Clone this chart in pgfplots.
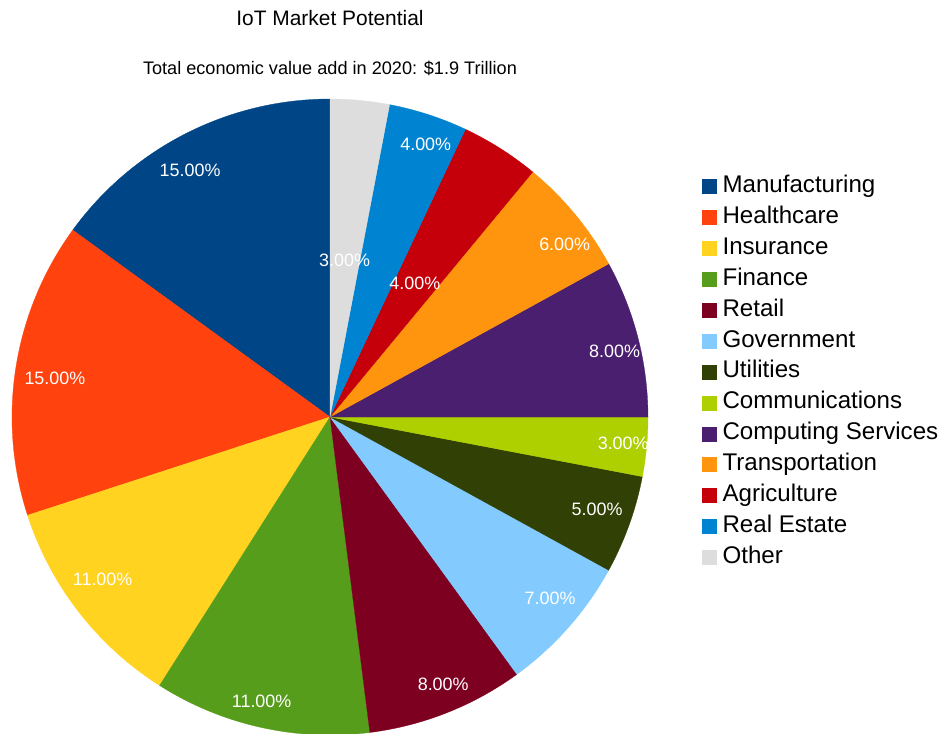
\documentclass[border=0pt]{standalone}
\usepackage{pgfplots}
\pgfplotsset{compat=1.18}
\usepackage{fontspec}
\setmainfont{Liberation Sans}
\definecolor{cManu}{HTML}{004586}
\definecolor{cHealth}{HTML}{FF420E}
\definecolor{cIns}{HTML}{FFD320}
\definecolor{cFin}{HTML}{579D1C}
\definecolor{cRet}{HTML}{7E0021}
\definecolor{cGov}{HTML}{83CAFF}
\definecolor{cUtil}{HTML}{314004}
\definecolor{cComm}{HTML}{AECF00}
\definecolor{cComp}{HTML}{4B1F6F}
\definecolor{cTrans}{HTML}{FF950E}
\definecolor{cAgri}{HTML}{C5000B}
\definecolor{cRE}{HTML}{0084D1}
\definecolor{cOther}{HTML}{DDDDDD}
\tikzset{pct/.style={text=white, font=\fontsize{18}{22}\selectfont}}
\begin{document}
\begin{tikzpicture}[x=1bp,y=1bp]
\useasboundingbox (0bp,0bp) rectangle (942bp,-734bp);
\node[font=\fontsize{21}{25}\selectfont] at (330bp,-18bp) {IoT Market Potential};
\node[font=\fontsize{18.2}{22}\selectfont] at (330bp,-68bp) {Total economic value add in 2020: \$1.9 Trillion};
\begin{axis}[
  at={(330bp,-417bp)}, anchor=origin,
  scale only axis, width=636bp, height=636bp,
  xmin=-1, xmax=1, ymin=-1, ymax=1,
  hide axis, clip=false, samples=90,
  legend cell align=left,
  legend style={at={(axis description cs:1.085,0.880)}, anchor=north west,
    draw=none, fill=none, inner sep=0pt,
    font=\fontsize{24.2}{28}\selectfont, row sep=8.9bp,
    nodes={inner ysep=0pt, inner xsep=0pt, text height=17bp, text depth=5bp},
    /tikz/every odd column/.append style={column sep=6bp}},
  legend image code/.code={\fill[#1] (0bp,-7bp) rectangle (14bp,7bp);},
]
% wedges: counter-clockwise from 90 degrees, angle = percent * 3.6
\addplot[fill=cManu, draw=cManu, line width=0.3bp, domain=90:144] ({cos(x)},{sin(x)}) -- (axis cs:0,0) -- cycle;
\addlegendentry{Manufacturing}
\addplot[fill=cHealth, draw=cHealth, line width=0.3bp, domain=144:198] ({cos(x)},{sin(x)}) -- (axis cs:0,0) -- cycle;
\addlegendentry{Healthcare}
\addplot[fill=cIns, draw=cIns, line width=0.3bp, domain=198:237.6] ({cos(x)},{sin(x)}) -- (axis cs:0,0) -- cycle;
\addlegendentry{Insurance}
\addplot[fill=cFin, draw=cFin, line width=0.3bp, domain=237.6:277.2] ({cos(x)},{sin(x)}) -- (axis cs:0,0) -- cycle;
\addlegendentry{Finance}
\addplot[fill=cRet, draw=cRet, line width=0.3bp, domain=277.2:306] ({cos(x)},{sin(x)}) -- (axis cs:0,0) -- cycle;
\addlegendentry{Retail}
\addplot[fill=cGov, draw=cGov, line width=0.3bp, domain=306:331.2] ({cos(x)},{sin(x)}) -- (axis cs:0,0) -- cycle;
\addlegendentry{Government}
\addplot[fill=cUtil, draw=cUtil, line width=0.3bp, domain=331.2:349.2] ({cos(x)},{sin(x)}) -- (axis cs:0,0) -- cycle;
\addlegendentry{Utilities}
\addplot[fill=cComm, draw=cComm, line width=0.3bp, domain=349.2:360] ({cos(x)},{sin(x)}) -- (axis cs:0,0) -- cycle;
\addlegendentry{Communications}
\addplot[fill=cComp, draw=cComp, line width=0.3bp, domain=360:388.8] ({cos(x)},{sin(x)}) -- (axis cs:0,0) -- cycle;
\addlegendentry{Computing Services}
\addplot[fill=cTrans, draw=cTrans, line width=0.3bp, domain=388.8:410.4] ({cos(x)},{sin(x)}) -- (axis cs:0,0) -- cycle;
\addlegendentry{Transportation}
\addplot[fill=cAgri, draw=cAgri, line width=0.3bp, domain=410.4:424.8] ({cos(x)},{sin(x)}) -- (axis cs:0,0) -- cycle;
\addlegendentry{Agriculture}
\addplot[fill=cRE, draw=cRE, line width=0.3bp, domain=424.8:439.2] ({cos(x)},{sin(x)}) -- (axis cs:0,0) -- cycle;
\addlegendentry{Real Estate}
\addplot[fill=cOther, draw=cOther, line width=0.3bp, domain=439.2:450] ({cos(x)},{sin(x)}) -- (axis cs:0,0) -- cycle;
\addlegendentry{Other}
% percentage labels inside the wedges
\node[pct] at (axis cs:-0.440,0.777) {15.00\%};
\node[pct] at (axis cs:-0.865,0.123) {15.00\%};
\node[pct] at (axis cs:-0.715,-0.509) {11.00\%};
\node[pct] at (axis cs:-0.215,-0.895) {11.00\%};
\node[pct] at (axis cs:0.356,-0.840) {8.00\%};
\node[pct] at (axis cs:0.692,-0.569) {7.00\%};
\node[pct] at (axis cs:0.840,-0.289) {5.00\%};
\node[pct] at (axis cs:0.922,-0.082) {3.00\%};
\node[pct] at (axis cs:0.895,0.205) {8.00\%};
\node[pct] at (axis cs:0.738,0.544) {6.00\%};
\node[pct] at (axis cs:0.267,0.421) {4.00\%};
\node[pct] at (axis cs:0.301,0.858) {4.00\%};
\node[pct] at (axis cs:0.046,0.492) {3.00\%};
\end{axis}
\end{tikzpicture}
\end{document}
